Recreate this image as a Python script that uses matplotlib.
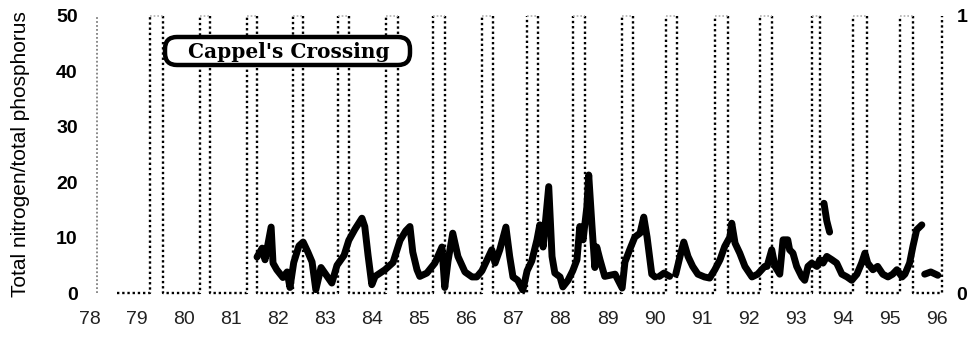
import matplotlib.pyplot as plt
from matplotlib.patches import FancyBboxPatch
from matplotlib.transforms import IdentityTransform
import numpy as np

# years shown on the x axis
year_labels = ["78", "79", "80", "81", "82", "83", "84", "85", "86", "87",
               "88", "89", "90", "91", "92", "93", "94", "95", "96"]
year_ticks = np.arange(78, 97)

# total N / total P ratio (NaN = gap in record)
np_year = [81.55, 81.66, 81.72, 81.85, 81.89, 81.97, 82.10, 82.19, 82.25, 82.33,
           82.44, 82.53, 82.63, 82.72, 82.80, 82.91, 83.04, 83.14, 83.25, 83.40,
           83.50, 83.63, 83.78, 83.84, 83.91, 83.99, 84.06, 84.27, 84.44, 84.59,
           84.71, 84.80, 84.86, 84.95, 85.01, 85.16, 85.33, 85.48, 85.54, 85.61,
           85.71, 85.82, 85.97, 86.12, 86.22, 86.33, 86.44, 86.54, 86.61, 86.71,
           86.84, 86.92, 86.99, 87.09, 87.20, 87.29, 87.39, 87.50, 87.56, 87.63,
           87.75, 87.82, 87.88, 87.99, 88.05, 88.16, 88.26, 88.35, 88.41, 88.48,
           88.56, 88.60, 88.67, 88.73, 88.77, 88.84, 88.94, 89.16, 89.31, 89.37,
           89.47, 89.58, 89.69, 89.77, 89.84, 89.94, 90.01, np.nan,
           90.10, 90.20, 90.32, np.nan,
           90.45, 90.54, 90.62, 90.71, 90.81, 90.92, 91.06, 91.17, 91.28, 91.39,
           91.49, 91.60, 91.64, 91.71, 91.81, 91.92, 92.07, 92.19, 92.34, 92.39,
           92.49, 92.56, 92.66, 92.73, 92.83, 92.87, 92.94, 93.02, 93.13, 93.19,
           93.26, 93.34, 93.45, 93.51, 93.58, 93.66, 93.77, 93.87, 93.98, 94.09,
           94.19, 94.30, 94.40, 94.47, 94.53, 94.64, 94.74, 94.85, 94.96, 95.06,
           95.15, 95.26, 95.32, 95.42, 95.49, 95.57, 95.68, np.nan,
           95.74, 95.87, 96.02, np.nan,
           93.60, 93.66, 93.72]
np_ratio = [6.5, 8.1, 6.0, 11.9, 5.4, 4.2, 2.8, 3.8, 1.0, 5.5,
            8.5, 9.2, 7.4, 5.6, 0.6, 4.6, 3.0, 1.8, 5.0, 6.8,
            9.5, 11.5, 13.5, 12.0, 6.8, 1.5, 3.0, 4.2, 5.5, 9.5,
            11.2, 12.0, 7.4, 4.2, 3.0, 3.6, 5.4, 8.3, 1.0, 5.8,
            10.8, 6.6, 3.8, 2.9, 2.9, 4.0, 6.0, 7.8, 5.4, 7.8,
            11.9, 6.6, 2.9, 2.3, 0.5, 4.0, 5.8, 9.6, 12.3, 8.3,
            19.2, 6.6, 3.6, 2.9, 1.1, 2.3, 4.0, 6.0, 12.0, 9.6,
            15.5, 21.3, 12.0, 4.6, 8.3, 6.0, 3.0, 3.4, 0.9, 5.6,
            7.8, 10.1, 10.8, 13.7, 10.1, 3.4, 2.9, np.nan,
            3.0, 3.6, 3.0, np.nan,
            3.4, 6.6, 9.2, 6.6, 4.8, 3.4, 2.9, 2.7, 4.2, 6.0,
            8.4, 10.1, 12.6, 9.0, 7.2, 4.8, 2.9, 3.4, 4.8, 4.8,
            7.8, 4.8, 3.4, 9.6, 9.6, 7.8, 7.2, 4.8, 2.9, 2.3,
            4.8, 5.4, 4.8, 6.0, 5.4, 6.6, 6.0, 5.4, 3.4, 2.9,
            2.3, 3.4, 5.4, 7.2, 5.4, 4.2, 4.8, 3.4, 2.9, 3.4,
            4.2, 2.9, 3.4, 5.4, 8.4, 11.4, 12.3, np.nan,
            3.4, 3.8, 3.2, np.nan,
            16.2, 13.0, 11.0]

# indicator periods (right axis, 0/1): start and end of each "on" window
period_start = [79.27, 80.34, 81.34, 82.31, 83.27, 84.29, 85.29, 86.33, 87.29,
                88.26, 89.30, 90.24, 91.28, 92.24, 93.34, 94.21, 95.21]
period_end = [79.55, 80.55, 81.55, 82.53, 83.50, 84.54, 85.54, 86.56, 87.52,
              88.52, 89.54, 90.47, 91.56, 92.49, 93.51, 94.51, 95.49]
record_start = 78.57
first_marker = 78.15
last_rise = 96.10

# verticals and bottom runs in black, the top runs are faint in the scan
step_x = [record_start]
step_y = [0]
top_x = []
top_y = []
for s, e in zip(period_start, period_end):
    step_x += [s, s, np.nan, e, e]
    step_y += [0, 1, np.nan, 1, 0]
    top_x += [s, e, np.nan]
    top_y += [1, 1, np.nan]
step_x += [last_rise, last_rise]
step_y += [0, 1]

fig = plt.figure(figsize=(9.78, 3.38), dpi=100)
ax = fig.add_axes([0.0824, 0.1331, 0.890, 0.8196])
ax2 = ax.twinx()
# ratio axis drawn over the dotted indicator
ax.set_zorder(ax2.get_zorder() + 1)
ax.patch.set_visible(False)

dots = (0, (1, 1.2))
ax2.plot(step_x, step_y, color="black", lw=1.7, linestyle=dots, clip_on=False)
ax2.plot(top_x, top_y, color="#b0b0b0", lw=1.2, linestyle=dots, clip_on=False)
ax2.plot([first_marker, first_marker], [0, 1], color="#808080", lw=1.3,
         linestyle=dots, clip_on=False)

ax.plot(np_year, np_ratio, color="black", lw=5, solid_joinstyle="round",
        solid_capstyle="round", zorder=3)

ax.set_xlim(77.8, 96.3)
ax.set_ylim(0, 50)
ax2.set_ylim(0, 1)

ax.set_xticks(year_ticks)
ax.set_xticklabels(year_labels, fontsize=14, color="#222222",
                   family="Liberation Sans")
ax.set_yticks([0, 10, 20, 30, 40, 50])
ax.set_yticklabels(["0", "10", "20", "30", "40", "50"], fontsize=14,
                   fontweight="bold", family="Liberation Sans")
ax2.set_yticks([0, 1])
ax2.set_yticklabels(["0", "1"], fontsize=14, fontweight="bold",
                    family="Liberation Sans")
ax.tick_params(axis="x", length=0, pad=13)
ax.tick_params(axis="y", length=0, pad=2)
ax2.tick_params(axis="y", length=0, pad=4)

for a in (ax, ax2):
    for sp in a.spines.values():
        sp.set_visible(False)

fig.text(0.021, 0.545, "Total nitrogen/total phosphorus", rotation=90,
         ha="center", va="center", fontsize=15, family="Liberation Sans")

# site name in a rounded frame (frame placed in pixels)
frame = FancyBboxPatch((165, 273), 245, 28,
                       boxstyle="round,pad=0,rounding_size=12",
                       transform=IdentityTransform(), facecolor="white",
                       edgecolor="black", lw=3.2, zorder=4, clip_on=False)
ax.add_patch(frame)
ax.text(82.23, 43.5, "Cappel's Crossing", ha="center", va="center",
        fontsize=14.5, fontweight="bold", family="DejaVu Serif", zorder=5)

fig.savefig("out.png", dpi=100)
